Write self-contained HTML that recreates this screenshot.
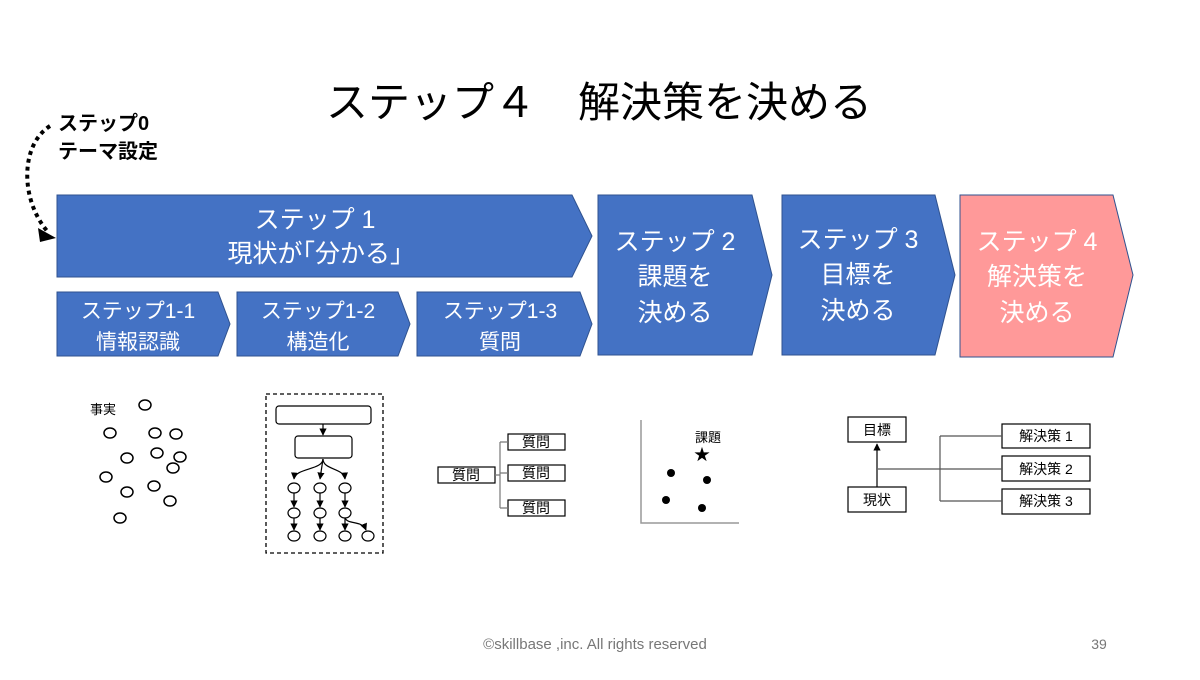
<!DOCTYPE html>
<html><head><meta charset="utf-8"><style>
body{margin:0;background:#fff}
svg text{font-family:"Liberation Sans","Noto Sans CJK JP",sans-serif}
</style></head><body>
<svg width="1200" height="675" viewBox="0 0 1200 675" xmlns="http://www.w3.org/2000/svg">
<defs>
<marker id="a" viewBox="0 0 10 10" refX="9" refY="5" markerWidth="6" markerHeight="6" orient="auto"><path d="M0,0L10,5L0,10z" fill="#000"/></marker>
</defs>
<text x="599" y="117" font-size="42" text-anchor="middle" fill="#000">ステップ４　解決策を決める</text>
<text x="58" y="130" font-size="20" font-weight="bold">ステップ0</text>
<text x="58" y="158" font-size="20" font-weight="bold">テーマ設定</text>
<path d="M50,126 C20,145 20,200 48,232" fill="none" stroke="#000" stroke-width="4" stroke-dasharray="4,4"/>
<path d="M38,228 L56,238 L40,242z" fill="#000"/>
<g fill="#4472C4" stroke="#2F528F" stroke-width="1">
<path d="M57,195H572L592,236L572,277H57z"/>
<path d="M57,292H218L230,324L218,356H57z"/>
<path d="M237,292H398L410,324L398,356H237z"/>
<path d="M417,292H580L592,324L580,356H417z"/>
<path d="M598,195H752L772,275L752,355H598z"/>
<path d="M782,195H935L955,275L935,355H782z"/>
</g>
<path d="M960,195H1113L1133,275L1113,357H960z" fill="#FF9999" stroke="#2F528F"/>
<g fill="#fff" font-size="25" text-anchor="middle">
<text x="315" y="228">ステップ 1</text>
<text x="315" y="262">現状が｢分かる｣</text>
<text x="675" y="250">ステップ 2</text><text x="675" y="285">課題を</text><text x="675" y="321">決める</text>
<text x="858" y="248">ステップ 3</text><text x="858" y="283">目標を</text><text x="858" y="319">決める</text>
<text x="1037" y="250">ステップ 4</text><text x="1037" y="285">解決策を</text><text x="1037" y="321">決める</text>
<g font-size="21">
<text x="138" y="318">ステップ1-1</text><text x="138" y="349">情報認識</text>
<text x="318" y="318">ステップ1-2</text><text x="318" y="349">構造化</text>
<text x="500" y="318">ステップ1-3</text><text x="500" y="349">質問</text>
</g></g>
<g fill="none" stroke="#000" stroke-width="1.5">
<ellipse cx="145" cy="405" rx="6" ry="5"/><ellipse cx="110" cy="433" rx="6" ry="5"/><ellipse cx="155" cy="433" rx="6" ry="5"/><ellipse cx="176" cy="434" rx="6" ry="5"/>
<ellipse cx="127" cy="458" rx="6" ry="5"/><ellipse cx="157" cy="453" rx="6" ry="5"/><ellipse cx="180" cy="457" rx="6" ry="5"/><ellipse cx="173" cy="468" rx="6" ry="5"/>
<ellipse cx="106" cy="477" rx="6" ry="5"/><ellipse cx="127" cy="492" rx="6" ry="5"/><ellipse cx="154" cy="486" rx="6" ry="5"/><ellipse cx="170" cy="501" rx="6" ry="5"/><ellipse cx="120" cy="518" rx="6" ry="5"/>
</g>
<text x="90" y="414" font-size="13">事実</text>
<rect x="266" y="394" width="117" height="159" fill="none" stroke="#000" stroke-width="1.3" stroke-dasharray="4,3"/>
<g fill="none" stroke="#000" stroke-width="1.2">
<rect x="276" y="406" width="95" height="18" rx="3"/>
<rect x="295" y="436" width="57" height="22" rx="3"/>
<line x1="323" y1="424" x2="323" y2="435" marker-end="url(#a)"/>
<path d="M323,459 C323,470 295,468 294,479" marker-end="url(#a)"/>
<path d="M323,459 L320,479" marker-end="url(#a)"/>
<path d="M323,459 C323,470 344,468 345,479" marker-end="url(#a)"/>
<g><ellipse cx="294" cy="488" rx="6" ry="5"/><ellipse cx="320" cy="488" rx="6" ry="5"/><ellipse cx="345" cy="488" rx="6" ry="5"/>
<ellipse cx="294" cy="513" rx="6" ry="5"/><ellipse cx="320" cy="513" rx="6" ry="5"/><ellipse cx="345" cy="513" rx="6" ry="5"/>
<ellipse cx="294" cy="536" rx="6" ry="5"/><ellipse cx="320" cy="536" rx="6" ry="5"/><ellipse cx="345" cy="536" rx="6" ry="5"/><ellipse cx="368" cy="536" rx="6" ry="5"/></g>
<line x1="294" y1="493" x2="294" y2="507" marker-end="url(#a)"/><line x1="320" y1="493" x2="320" y2="507" marker-end="url(#a)"/><line x1="345" y1="493" x2="345" y2="507" marker-end="url(#a)"/>
<line x1="294" y1="518" x2="294" y2="530" marker-end="url(#a)"/><line x1="320" y1="518" x2="320" y2="530" marker-end="url(#a)"/><line x1="345" y1="518" x2="345" y2="530" marker-end="url(#a)"/>
<path d="M345,518 C348,525 362,520 366,530" marker-end="url(#a)"/>
</g>
<g fill="none" stroke="#000" stroke-width="1.2">
<rect x="438" y="467" width="57" height="16"/>
<rect x="508" y="434" width="57" height="16"/><rect x="508" y="465" width="57" height="16"/><rect x="508" y="500" width="57" height="16"/>
<path d="M495,475H500M500,442V508M500,442H508M500,473H508M500,508H508" stroke="#777"/>
</g>
<g font-size="14" text-anchor="middle"><text x="466" y="480">質問</text><text x="536" y="447">質問</text><text x="536" y="478">質問</text><text x="536" y="513">質問</text></g>
<path d="M641,420V523H739" fill="none" stroke="#999" stroke-width="1.5"/>
<text x="708" y="442" font-size="13" text-anchor="middle">課題</text>
<text x="702" y="460" font-size="16" text-anchor="middle">★</text>
<g fill="#000"><circle cx="671" cy="473" r="4"/><circle cx="707" cy="480" r="4"/><circle cx="666" cy="500" r="4"/><circle cx="702" cy="508" r="4"/></g>
<g fill="none" stroke="#000" stroke-width="1.2">
<rect x="848" y="417" width="58" height="25"/><rect x="848" y="487" width="58" height="25"/>
<rect x="1002" y="424" width="88" height="24"/><rect x="1002" y="456" width="88" height="25"/><rect x="1002" y="489" width="88" height="25"/>
<line x1="877" y1="487" x2="877" y2="444" marker-end="url(#a)"/>
<path d="M878,469H1002M940,436V501M940,436H1002M940,501H1002" stroke="#555"/>
</g>
<g font-size="14" text-anchor="middle"><text x="877" y="435">目標</text><text x="877" y="505">現状</text>
<text x="1046" y="441">解決策 1</text><text x="1046" y="474">解決策 2</text><text x="1046" y="506">解決策 3</text></g>
<text x="595" y="649" font-size="15" fill="#777" text-anchor="middle">©skillbase ,inc. All rights reserved</text>
<text x="1099" y="649" font-size="14" fill="#777" text-anchor="middle">39</text>
</svg>
</body></html>
